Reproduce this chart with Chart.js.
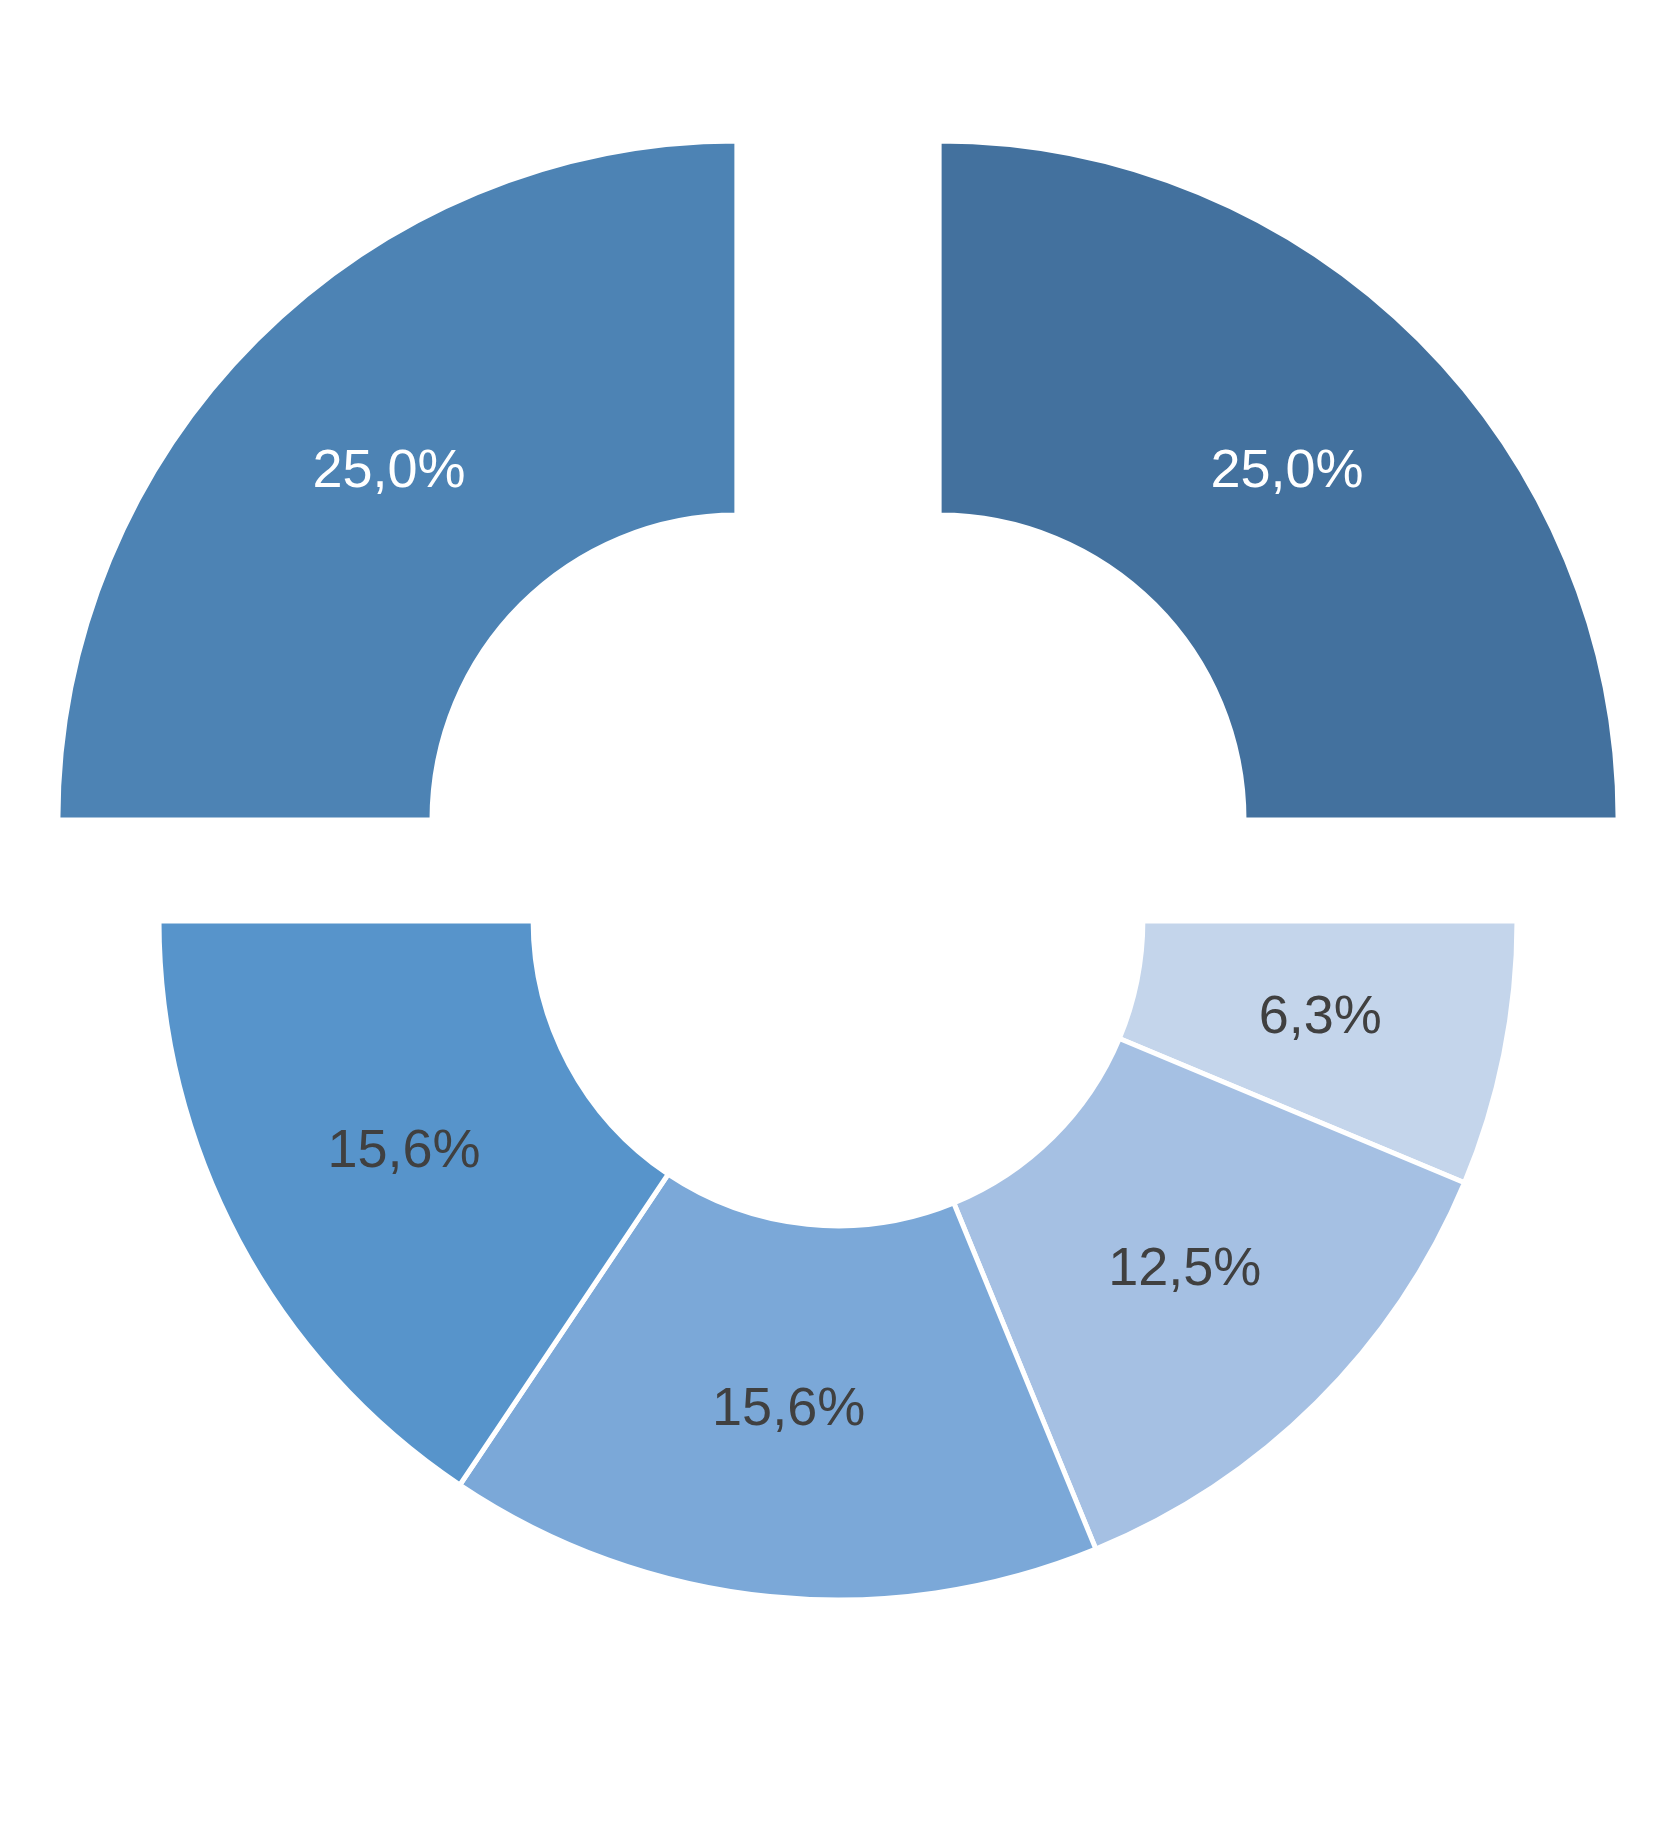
<!DOCTYPE html>
<html>
<head>
<meta charset="utf-8">
<script src="https://cdn.jsdelivr.net/npm/chart.js@4/dist/chart.umd.min.js"></script>
<style>
  html, body { margin: 0; padding: 0; background: #ffffff; }
  #wrap { width: 1676px; height: 1835px; }
</style>
</head>
<body>
<div id="wrap"><canvas id="c" width="1676" height="1835"></canvas></div>
<script>
// Data (clockwise from 12 o'clock)
const categories = ['Segment 1', 'Segment 2', 'Segment 3', 'Segment 4', 'Segment 5', 'Segment 6'];
const shares = [25.0, 6.3, 12.5, 15.6, 15.6, 25.0];
const sliceColors = ['#43719e', '#c4d5eb', '#a5c0e3', '#7ba8d8', '#5794cb', '#4d83b4'];
const labelColors = ['#ffffff', '#404040', '#404040', '#404040', '#404040', '#ffffff'];

// Exploded slices: displacement in px (Chart.js v4 moves an arc by offset/4)
const EXPLODE_PX = 143;
const isExploded = (i) => i === 0 || i === shares.length - 1;

const labelPlugin = {
  id: 'sliceLabels',
  afterDatasetsDraw(chart) {
    const ctx = chart.ctx;
    const meta = chart.getDatasetMeta(0);
    ctx.save();
    ctx.font = '54px "Liberation Sans", Arial, sans-serif';
    ctx.textAlign = 'center';
    ctx.textBaseline = 'middle';
    meta.data.forEach((arc, i) => {
      const p = arc.getProps(['x', 'y', 'startAngle', 'endAngle', 'innerRadius', 'outerRadius'], true);
      const off = isExploded(i) ? EXPLODE_PX : 0;
      const mid = (p.startAngle + p.endAngle) / 2;
      const r = off + (p.innerRadius + p.outerRadius) / 2;
      const x = p.x + Math.cos(mid) * r;
      const y = p.y + Math.sin(mid) * r;
      ctx.fillStyle = labelColors[i];
      ctx.fillText(shares[i].toFixed(1).replace('.', ',') + '%', x, y);
    });
    ctx.restore();
  }
};

new Chart(document.getElementById('c'), {
  type: 'doughnut',
  data: {
    labels: categories,
    datasets: [{
      data: shares,
      backgroundColor: sliceColors,
      borderColor: '#ffffff',
      borderWidth: 5,
      offset: (c) => isExploded(c.dataIndex) ? EXPLODE_PX * 4 : 0,
      hoverOffset: 0
    }]
  },
  options: {
    responsive: false,
    animation: false,
    radius: 679,
    cutout: '44.9%',
    rotation: 0,
    layout: { padding: { top: 7, bottom: 0, left: 0, right: 0 } },
    plugins: {
      legend: { display: false },
      tooltip: { enabled: false }
    },
    events: []
  },
  plugins: [labelPlugin]
});
</script>
</body>
</html>
